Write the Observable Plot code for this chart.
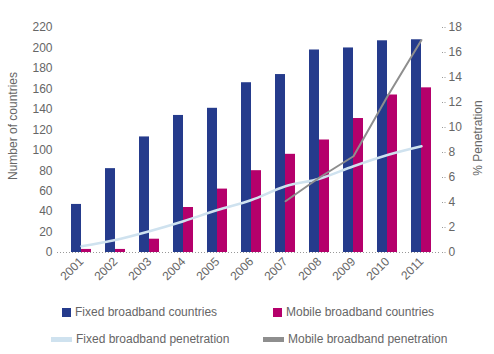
<!DOCTYPE html>
<html>
<head>
<meta charset="utf-8">
<script src="https://cdn.jsdelivr.net/npm/d3@7"></script>
<script src="https://cdn.jsdelivr.net/npm/@observablehq/plot@0.6"></script>
<style>
  html, body { margin: 0; padding: 0; background: #fff; }
  body { width: 494px; height: 354px; overflow: hidden; font-family: "Liberation Sans", Arial, sans-serif; }
  #chart { position: relative; width: 494px; }
  .legend { position: relative; width: 494px; height: 64px; font-size: 12px; color: #666; }
  .item { position: absolute; display: flex; align-items: center; white-space: nowrap; }
  .sw { display: inline-block; margin-right: 4px; }
</style>
</head>
<body>
<div id="chart"></div>
<div class="legend" id="legend"></div>
<script>
const years = ["2001","2002","2003","2004","2005","2006","2007","2008","2009","2010","2011"];
const fixedCountries = [47, 82, 113, 134, 141, 166, 174, 198, 200, 207, 208];
const mobileCountries = [3, 3, 13, 44, 62, 80, 96, 110, 131, 154, 161];
const fixedPenetration = [0.5, 1.0, 1.7, 2.5, 3.4, 4.2, 5.3, 5.9, 6.9, 7.8, 8.5];
const mobilePenetrationYears = ["2007","2008","2009","2010","2011"];
const mobilePenetration = [4.1, 6.0, 7.7, 12.5, 17.0];
const leftTicks = [0,20,40,60,80,100,120,140,160,180,200,220];
const rightTicks = [0,2,4,6,8,10,12,14,16,18];

const colors = {
  fixed: "#253b8c",
  mobile: "#b5006b",
  fixedPen: "#cfe2ef",
  mobilePen: "#8e8e8e"
};
const k = 220 / 18; // right-axis % -> left-axis units

const fixedRows = years.map((y, i) => ({year: y, value: fixedCountries[i]}));
const mobileRows = years.map((y, i) => ({year: y, value: mobileCountries[i]}));
const fixedPenRows = years.map((y, i) => ({year: y, value: fixedPenetration[i] * k}));
const mobilePenRows = mobilePenetrationYears.map((y, i) => ({year: y, value: mobilePenetration[i] * k}));

const W = 494, H = 290;
const chart = Plot.plot({
  width: W,
  height: H,
  marginLeft: 57,
  marginRight: 53,
  marginTop: 27,
  marginBottom: 38,
  style: {fontFamily: "Liberation Sans, Arial, sans-serif", fontSize: "12px", color: "#666", background: "#fff"},
  x: {type: "band", domain: years, range: [57, 445], padding: 0.41},
  y: {domain: [0, 220], range: [252, 27]},
  marks: [
    Plot.barY(fixedRows, {x: "year", y: "value", fill: colors.fixed, insetRight: 10}),
    Plot.barY(mobileRows, {x: "year", y: "value", fill: colors.mobile, insetLeft: 10}),
    Plot.ruleY([0], {stroke: "#999", strokeDasharray: "1,2"}),
    Plot.line(fixedPenRows, {x: "year", y: "value", stroke: colors.fixedPen, strokeWidth: 2.5, curve: "monotone-x"}),
    Plot.line(mobilePenRows, {x: "year", y: "value", stroke: colors.mobilePen, strokeWidth: 2}),
    Plot.axisY({anchor: "left", ticks: leftTicks, tickSize: 0, tickPadding: 5, label: null, fill: "#666"}),
    Plot.axisY({anchor: "right", ticks: rightTicks.map(v => v * k), tickFormat: d => String(Math.round(d / k)),
      tickSize: 5, tickPadding: 2, label: null, stroke: "#999", strokeDasharray: "1,1.5", fill: "#666"}),
    Plot.axisX({ticks: years, tickSize: 0, tickPadding: 7, tickRotate: -45, label: null, fill: "#666"}),
    Plot.text(["Number of countries"], {frameAnchor: "left", textAnchor: "middle", dx: -44, dy: -14, rotate: -90, fill: "#666", fontSize: 12}),
    Plot.text(["% Penetration"], {frameAnchor: "right", textAnchor: "middle", dx: 37, dy: -2, rotate: -90, fill: "#666", fontSize: 12})
  ]
});
document.getElementById("chart").appendChild(chart);

const legendItems = [
  {label: "Fixed broadband countries", color: colors.fixed, kind: "square", left: 62, top: 23},
  {label: "Mobile broadband countries", color: colors.mobile, kind: "square", left: 273, top: 23},
  {label: "Fixed broadband penetration", color: colors.fixedPen, kind: "line", left: 51, top: 50},
  {label: "Mobile broadband penetration", color: colors.mobilePen, kind: "line", left: 263, top: 50}
];
const legend = document.getElementById("legend");
for (const it of legendItems) {
  const d = document.createElement("div");
  d.className = "item";
  d.style.left = it.left + "px";
  d.style.top = (it.top - 8) + "px";
  const sw = document.createElement("span");
  sw.className = "sw";
  if (it.kind === "square") { sw.style.width = "9px"; sw.style.height = "9px"; }
  else { sw.style.width = "21px"; sw.style.height = "5px"; }
  sw.style.background = it.color;
  d.appendChild(sw);
  const t = document.createElement("span");
  t.textContent = it.label;
  d.appendChild(t);
  legend.appendChild(d);
}
</script>
</body>
</html>
